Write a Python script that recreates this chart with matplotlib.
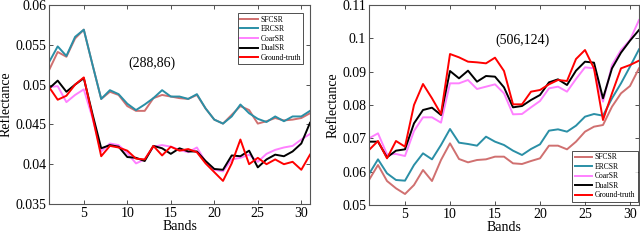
import matplotlib
matplotlib.use("Agg")
import matplotlib.pyplot as plt
from matplotlib.ticker import FuncFormatter, MultipleLocator

bands = list(range(1, 32))
names = ["SFCSR", "ERCSR", "CoarSR", "DualSR", "Ground-truth"]
colors = ["#D07070", "#2A8FA6", "#FF80FF", "#000000", "#FF0000"]

# Left panel: pixel (288,86)
left_sfcsr = [0.0518, 0.0541, 0.0535, 0.0558, 0.0569, 0.0525, 0.0482, 0.0491, 0.0487, 0.0473,
              0.0467, 0.0467, 0.0483, 0.0487, 0.0485, 0.0483, 0.0482, 0.0487, 0.0470, 0.0456,
              0.0451, 0.0462, 0.0473, 0.0468, 0.0451, 0.0454, 0.0458, 0.0455, 0.0456, 0.0458, 0.0464]
left_ercsr = [0.0528, 0.0548, 0.0536, 0.0560, 0.0569, 0.0525, 0.0482, 0.0493, 0.0488, 0.0476,
              0.0468, 0.0475, 0.0483, 0.0493, 0.0485, 0.0485, 0.0482, 0.0488, 0.0470, 0.0456,
              0.0451, 0.0460, 0.0475, 0.0464, 0.0457, 0.0453, 0.0460, 0.0454, 0.0460, 0.0460, 0.0467]
left_coarsr = [0.0497, 0.0498, 0.0478, 0.0487, 0.0494, 0.0458, 0.0416, 0.0426, 0.0424, 0.0414,
               0.0401, 0.0406, 0.0422, 0.0424, 0.0422, 0.0418, 0.0415, 0.0421, 0.0403, 0.0393,
               0.0391, 0.0406, 0.0408, 0.0412, 0.0403, 0.0413, 0.0418, 0.0421, 0.0423, 0.0431, 0.0438]
left_dualsr = [0.0495, 0.0505, 0.0491, 0.0500, 0.0508, 0.0463, 0.0420, 0.0424, 0.0422, 0.0409,
               0.0408, 0.0404, 0.0423, 0.0420, 0.0413, 0.0420, 0.0416, 0.0416, 0.0404, 0.0394,
               0.0393, 0.0411, 0.0410, 0.0417, 0.0396, 0.0406, 0.0412, 0.0410, 0.0416, 0.0426, 0.0452]
left_gt = [0.0497, 0.0481, 0.0486, 0.0500, 0.0509, 0.0460, 0.0410, 0.0423, 0.0421, 0.0417,
           0.0407, 0.0406, 0.0423, 0.0411, 0.0422, 0.0417, 0.0419, 0.0415, 0.0401, 0.0390,
           0.0379, 0.0401, 0.0431, 0.0400, 0.0408, 0.0400, 0.0406, 0.0400, 0.0403, 0.0393, 0.0412]

# Right panel: pixel (506,124)
right_sfcsr = [0.0575, 0.0620, 0.0572, 0.0550, 0.0533, 0.0560, 0.0605, 0.0572, 0.0635, 0.0685,
               0.0638, 0.0628, 0.0635, 0.0637, 0.0645, 0.0645, 0.0625, 0.0623, 0.0632, 0.0640,
               0.0678, 0.0678, 0.0667, 0.0690, 0.0720, 0.0735, 0.0740, 0.0795, 0.0835, 0.0857, 0.0910]
right_ercsr = [0.0593, 0.0637, 0.0595, 0.0575, 0.0573, 0.0620, 0.0655, 0.0637, 0.0680, 0.0728,
               0.0687, 0.0683, 0.0678, 0.0705, 0.0690, 0.0680, 0.0663, 0.0650, 0.0668, 0.0682,
               0.0723, 0.0727, 0.0720, 0.0738, 0.0765, 0.0773, 0.0768, 0.0820, 0.0865, 0.0915, 0.0967]
right_coarsr = [0.0700, 0.0715, 0.0652, 0.0653, 0.0647, 0.0722, 0.0763, 0.0763, 0.0747, 0.0865,
                0.0865, 0.0875, 0.0848, 0.0855, 0.0862, 0.0835, 0.0772, 0.0773, 0.0793, 0.0812,
                0.0850, 0.0855, 0.0840, 0.0878, 0.0913, 0.0910, 0.0810, 0.0920, 0.0965, 0.0995, 0.1055]
right_dualsr = [0.0690, 0.0690, 0.0643, 0.0663, 0.0667, 0.0745, 0.0785, 0.0792, 0.0770, 0.0902,
                0.0880, 0.0903, 0.0870, 0.0887, 0.0885, 0.0853, 0.0793, 0.0797, 0.0815, 0.0830,
                0.0868, 0.0877, 0.0860, 0.0903, 0.0930, 0.0927, 0.0820, 0.0910, 0.0957, 0.0993, 0.1025]
right_gt = [0.0665, 0.0692, 0.0640, 0.0692, 0.0675, 0.0800, 0.0863, 0.0820, 0.0773, 0.0953,
            0.0943, 0.0930, 0.0928, 0.0925, 0.0942, 0.0902, 0.0802, 0.0802, 0.0840, 0.0845,
            0.0862, 0.0875, 0.0872, 0.0938, 0.0965, 0.0910, 0.0755, 0.0835, 0.0910, 0.0920, 0.0933]

plt.rcParams['font.family'] = ['Liberation Serif', 'DejaVu Serif']

fig = plt.figure(figsize=(6.4, 2.4), dpi=100)
ax1 = fig.add_axes([49/640, 1-204/240, 261/640, 199/240])
ax2 = fig.add_axes([369/640, 1-205/240, 270/640, 200/240])

fmt = FuncFormatter(lambda v, p: ('%g' % round(v, 4)))

def style(ax, ylim, ystep):
    ax.set_xlim(1, 31)
    ax.set_ylim(*ylim)
    ax.xaxis.set_major_locator(MultipleLocator(5))
    ax.yaxis.set_major_locator(MultipleLocator(ystep))
    ax.yaxis.set_major_formatter(fmt)
    ax.tick_params(direction='in', top=True, right=True, length=3, width=0.6,
                   color='#333333', labelsize=10, pad=2)
    for s in ax.spines.values():
        s.set_color('#555555')
        s.set_linewidth(0.8)
    ax.set_xlabel('Bands', fontsize=10, labelpad=0)
    ax.set_ylabel('Reflectance', fontsize=10, labelpad=2)

for ax, series in [(ax1, [left_sfcsr, left_ercsr, left_coarsr, left_dualsr, left_gt]),
                   (ax2, [right_sfcsr, right_ercsr, right_coarsr, right_dualsr, right_gt])]:
    for name, col, ys in zip(names, colors, series):
        ax.plot(bands, ys, color=col, lw=1.4, label=name)

style(ax1, (0.035, 0.06), 0.005)
style(ax2, (0.05, 0.11), 0.01)

ax1.text(12.8, 0.0527, '(288,86)', fontsize=10, ha='center', va='center')
ax2.text(18, 0.0995, '(506,124)', fontsize=10, ha='center', va='center')

legkw = dict(prop={'size': 5.5}, frameon=True, fancybox=False, edgecolor='black',
             handlelength=2.3, handletextpad=0.3, borderpad=0.35, labelspacing=0.2)
l1 = ax1.legend(loc='upper right', bbox_to_anchor=(0.975, 0.96), borderaxespad=0, **legkw)
l1.get_frame().set_linewidth(0.6)
l2 = ax2.legend(loc='lower right', bbox_to_anchor=(0.995, 0.015), borderaxespad=0, **legkw)
l2.get_frame().set_linewidth(0.6)

fig.savefig('out.png', dpi=100)
